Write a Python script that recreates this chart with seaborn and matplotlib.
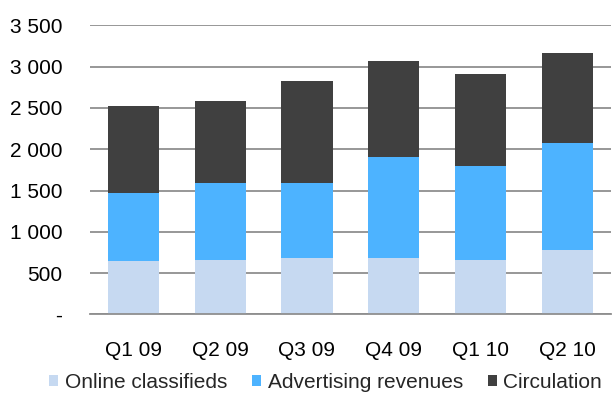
import numpy as np
import pandas as pd
import matplotlib
matplotlib.use("Agg")
import matplotlib.pyplot as plt
from matplotlib.patches import Patch
from matplotlib.ticker import FuncFormatter, FixedLocator
import seaborn as sns

quarters = ["Q1 09", "Q2 09", "Q3 09", "Q4 09", "Q1 10", "Q2 10"]
online_classifieds = [645, 655, 680, 680, 655, 775]
advertising_revenues = [825, 935, 910, 1225, 1140, 1295]
circulation = [1055, 990, 1235, 1165, 1115, 1090]

series_names = ["Online classifieds", "Advertising revenues", "Circulation"]
colors = ["#C6D9F1", "#4DB3FF", "#404040"]

sns.set_theme(style="white")
plt.rcParams["font.family"] = ["Liberation Sans", "DejaVu Sans"]

df = pd.DataFrame({
    "quarter": quarters,
    "online": online_classifieds,
    "advertising": advertising_revenues,
    "circulation": circulation,
})
df["lvl1"] = df["online"]
df["lvl2"] = df["lvl1"] + df["advertising"]
df["lvl3"] = df["lvl2"] + df["circulation"]

fig = plt.figure(figsize=(6.12, 3.95), dpi=100)
ax = fig.add_axes([0.147, 0.204, 0.851, 0.732])

# stacked bars drawn back to front from cumulative totals
for col, color in zip(["lvl3", "lvl2", "lvl1"], colors[::-1]):
    sns.barplot(data=df, x="quarter", y=col, color=color, width=0.59,
                saturation=1, ax=ax, zorder=3, linewidth=0)

ax.set_xlim(-0.5, len(quarters) - 0.5)
ax.set_ylim(0, 3500)
ax.set_yticks(np.arange(0, 3501, 500))
ax.yaxis.set_major_formatter(FuncFormatter(
    lambda v, p: "-" if v == 0 else f"{int(v):,}".replace(",", " ")))
ax.grid(axis="y", color="#8f8f8f", linewidth=1.3, zorder=0)
ax.set_axisbelow(True)
ax.set_xlabel("")
ax.set_ylabel("")

for s in ["top", "right", "left"]:
    ax.spines[s].set_visible(False)
ax.spines["bottom"].set_color("#8f8f8f")
ax.spines["bottom"].set_linewidth(1.3)
ax.spines["bottom"].set_zorder(4)

ax.tick_params(axis="y", length=0, pad=20, labelsize=15, colors="#000000")
ax.tick_params(axis="x", which="major", length=0, pad=19, labelsize=15, colors="#000000")
ax.xaxis.set_minor_locator(FixedLocator(np.arange(-0.5, len(quarters), 1.0)))
ax.tick_params(axis="x", which="minor", length=6, width=1.3, color="#8f8f8f", direction="out")

handles = [Patch(facecolor=c, edgecolor="none") for c in colors]
fig.legend(handles, series_names, loc="center", bbox_to_anchor=(0.532, 0.032),
           ncol=3, frameon=False, fontsize=15, handlelength=0.45, handleheight=0.45,
           handletextpad=0.3, columnspacing=1.2, borderaxespad=0, borderpad=0)

fig.savefig("out.png", dpi=100)
